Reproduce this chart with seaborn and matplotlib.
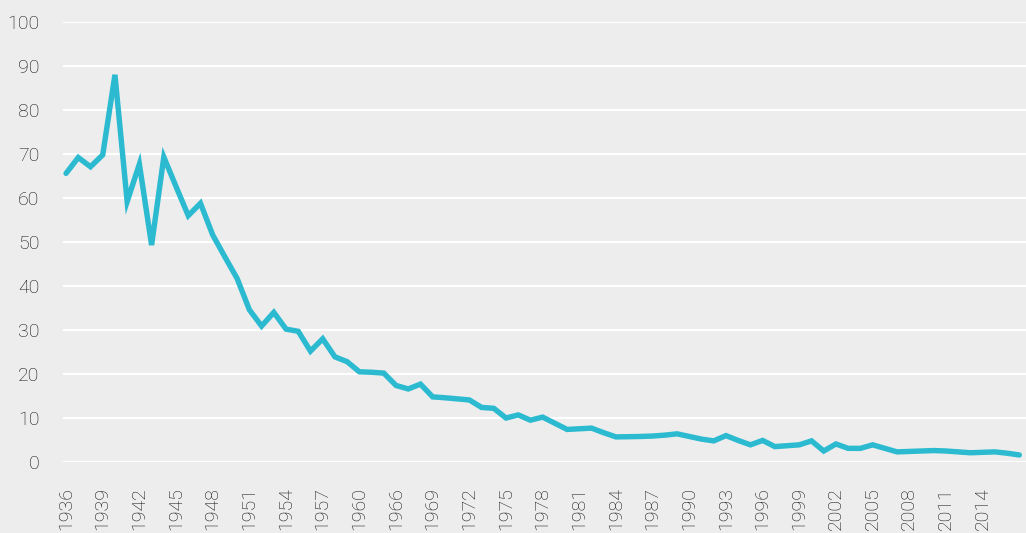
import matplotlib
matplotlib.use("Agg")
import matplotlib.pyplot as plt
import seaborn as sns
import numpy as np
import pandas as pd

# Datos

years = list(range(1936, 1961)) + [1962, 1964] + list(range(1966, 2018))

values = [
    65.6, 69.2, 67.1, 69.8, 88.0, 59.2, 67.7, 49.3, 69.3, 62.6,   # 1936-1945
    56.0, 58.8, 51.6, 46.6, 41.7, 34.6, 30.9, 34.0, 30.2, 29.7,   # 1946-1955
    25.2, 28.0, 23.9, 22.8, 20.5,                                 # 1956-1960
    20.4, 20.2,                                                   # 1962, 1964
    17.4, 16.6, 17.7, 14.8, 14.6, 14.35, 14.1, 12.4, 12.2, 10.0,  # 1966-1975
    10.7, 9.5, 10.2, 8.8, 7.4, 7.55, 7.7, 6.65, 5.7, 5.75,        # 1976-1985
    5.8, 5.9, 6.1, 6.4, 5.8, 5.2, 4.8, 6.0, 4.9, 3.9,             # 1986-1995
    4.9, 3.5, 3.7, 3.9, 4.8, 2.5, 4.1, 3.1, 3.1, 3.9,             # 1996-2005
    3.1, 2.3, 2.4, 2.5, 2.6, 2.5, 2.3, 2.1, 2.2, 2.3,             # 2006-2015
    2.0, 1.6,                                                     # 2016-2017
]

yticks = list(range(0, 101, 10))

datos = pd.DataFrame({"pos": np.arange(len(years)), "valor": values})

# Estilo

bg = "#EDEDED"
sns.set_theme(style="whitegrid")
plt.rcParams["font.family"] = ["Roboto", "DejaVu Sans"]

fig = plt.figure(figsize=(10.26, 5.33), dpi=100, facecolor=bg)
ax = fig.add_axes([63 / 1026, 71 / 533, 963 / 1026, 440 / 533])
ax.set_facecolor(bg)

sns.lineplot(data=datos, x="pos", y="valor", color="#2BBAD0", linewidth=3.9, ax=ax,
             solid_joinstyle="miter")

ax.set_ylim(0, 100)
ax.set_xlim(-0.25, 78.55)
ax.set_yticks(yticks)
ax.set_yticklabels([str(v) for v in yticks])

idx = list(range(0, 76, 3))
ax.set_xticks(idx)
ax.set_xticklabels([str(years[i]) for i in idx], rotation=90)

ax.grid(axis="y", color="white", linewidth=1.6)
ax.grid(axis="x", visible=False)
for s in ax.spines.values():
    s.set_visible(False)

ax.tick_params(axis="y", length=0, pad=17, labelsize=14, labelcolor="#111111")
ax.tick_params(axis="x", length=0, pad=18, labelsize=14, labelcolor="#111111")
for lab in ax.get_xticklabels() + ax.get_yticklabels():
    lab.set_fontweight("light")

ax.set_xlabel("")
ax.set_ylabel("")

fig.savefig("out.png", dpi=100, facecolor=bg)
